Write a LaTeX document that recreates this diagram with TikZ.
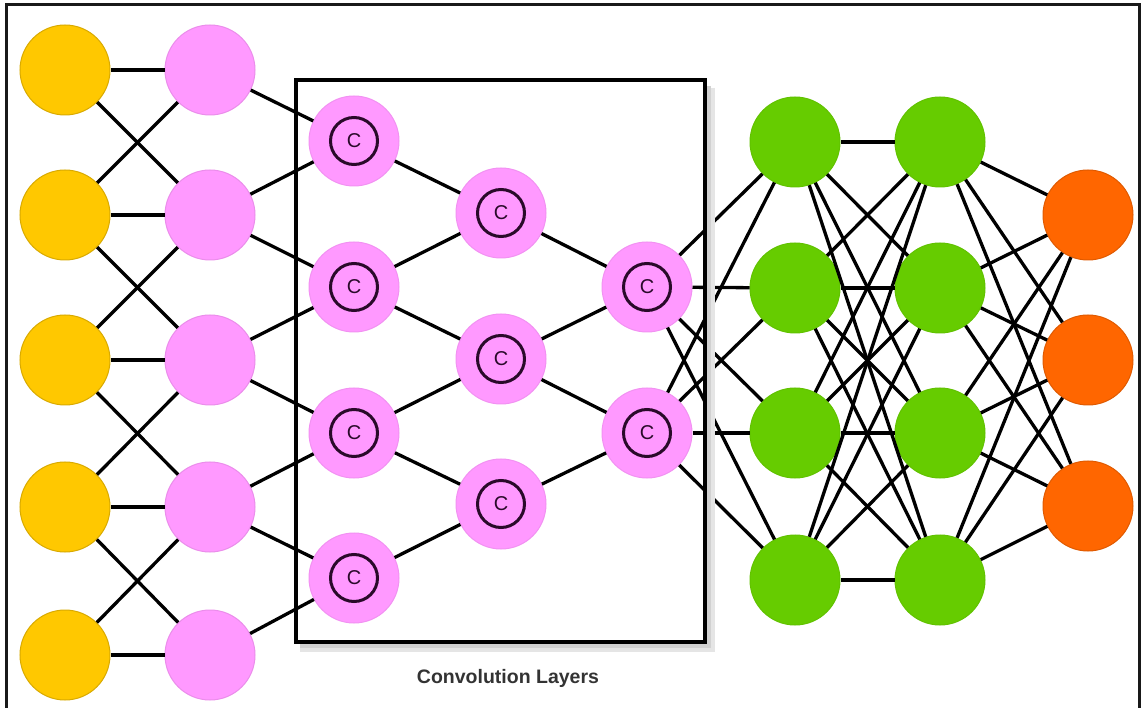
\documentclass[tikz,border=0pt]{standalone}
\usepackage{fontspec}
\setmainfont{Liberation Sans}
\definecolor{yelc}{HTML}{FFC800}
\definecolor{pinkc}{HTML}{FF99FF}
\definecolor{greenc}{HTML}{66CC00}
\definecolor{orangec}{HTML}{FF6600}
\definecolor{cdark}{HTML}{2A0A2A}
\begin{document}
\begin{tikzpicture}[x=1pt,y=-1pt,
  neuron/.style={circle, inner sep=0pt, minimum size=90pt, line width=1pt},
  yel/.style={neuron, fill=yelc, draw=yelc!85!black},
  pnk/.style={neuron, fill=pinkc, draw=pinkc!92!black},
  grn/.style={neuron, fill=greenc, draw=greenc!95!black},
  org/.style={neuron, fill=orangec, draw=orangec!88!black},
  conv/.style={neuron, fill=pinkc, draw=pinkc!95!black, minimum size=90pt,
    font=\fontsize{20}{20}\selectfont, text=cdark,
    path picture={\draw[cdark, line width=3pt] (path picture bounding box.center) circle (23.5pt);}},
  link/.style={line width=3.3pt, black},
  frameline/.style={line width=3pt, black!90},
  boxline/.style={line width=4.2pt, black}
]
\useasboundingbox (0,0) rectangle (1141,708);
\fill[white] (0,0) rectangle (1141,708);
% outer frame
\draw[frameline] (6,710) -- (6,5) -- (1139,5) -- (1139,710);

% nodes
\foreach \i/\y in {1/70,2/215,3/360,4/507,5/655} {
  \node[yel] (y\i) at (65,\y) {};
  \node[pnk] (p\i) at (210,\y) {};
}
\foreach \i/\y in {1/141,2/287,3/433,4/578}
  \node[conv] (ca\i) at (354,\y) {C};
\foreach \i/\y in {1/213,2/359,3/504}
  \node[conv] (cb\i) at (501,\y) {C};
\foreach \i/\y in {1/287,2/433}
  \node[conv] (cc\i) at (647,\y) {C};
\foreach \i/\y in {1/142,2/288,3/433,4/580} {
  \node[grn] (ga\i) at (795,\y) {};
  \node[grn] (gb\i) at (940,\y) {};
}
\foreach \i/\y in {1/215,2/360,3/506}
  \node[org] (o\i) at (1088,\y) {};

% connectors
\foreach \i in {1,...,5} \draw[link] (y\i) -- (p\i);
\foreach \i/\j in {1/2,2/1,2/3,3/2,3/4,4/3,4/5,5/4} \draw[link] (y\i) -- (p\j);
\foreach \i/\j in {1/1,2/1,2/2,3/2,3/3,4/3,4/4,5/4} \draw[link] (p\i) -- (ca\j);
\foreach \i/\j in {1/1,2/1,2/2,3/2,3/3,4/3} \draw[link] (ca\i) -- (cb\j);
\foreach \i/\j in {1/1,2/1,2/2,3/2} \draw[link] (cb\i) -- (cc\j);
\foreach \i in {1,2} \foreach \j in {1,...,4} \draw[link] (cc\i) -- (ga\j);
\foreach \i in {1,...,4} \foreach \j in {1,...,4} \draw[link] (ga\i) -- (gb\j);
\foreach \i in {1,...,4} \foreach \j in {1,2,3} \draw[link] (gb\i) -- (o\j);

% convolution box with soft shadow
\draw[black!10, line width=8pt] (711,88) -- (711,648) -- (300,648);
\draw[black!18, line width=4pt] (709,86) -- (709,646) -- (300,646);
\draw[boxline] (296,80) rectangle (705,642);

% label
\node[font=\bfseries\fontsize{19.5}{19.5}\selectfont, text=black!80] (lbl) at (508,678) {Convolution Layers};
\end{tikzpicture}
\end{document}
